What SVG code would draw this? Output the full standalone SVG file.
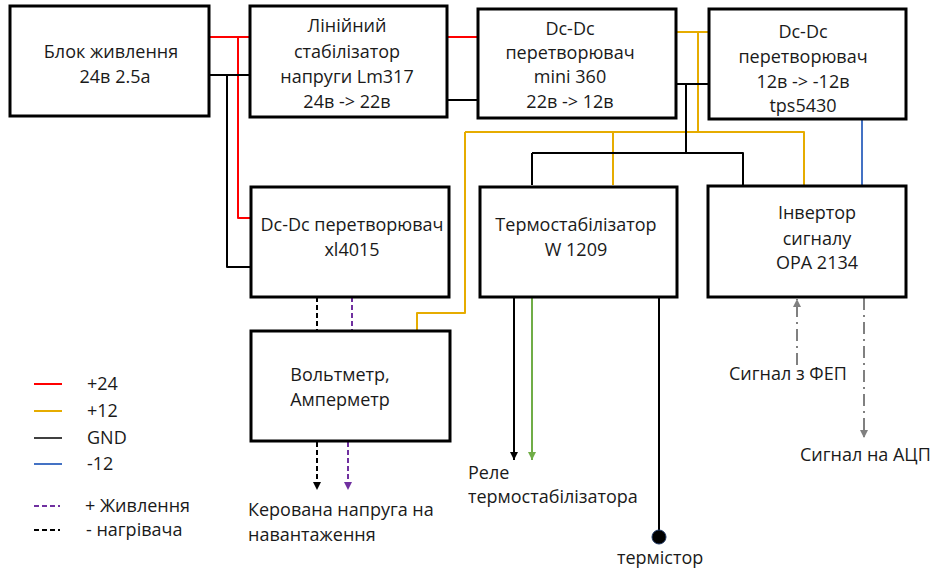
<svg xmlns="http://www.w3.org/2000/svg" width="933" height="574" viewBox="0 0 933 574">
<style>
.box{fill:#fff;stroke:#000;stroke-width:3}
.t{font-family:"Open Sans","Liberation Sans",sans-serif;font-size:18px;fill:#1a1a1a;text-anchor:middle}
.tl{font-family:"Open Sans","Liberation Sans",sans-serif;font-size:18px;fill:#1a1a1a}
.w{fill:none;stroke-width:2;stroke-linejoin:round}
.r{stroke:#ff0000}.y{stroke:#e6ac00}.k{stroke:#000}.b{stroke:#4472c4}.g{stroke:#70ad47}.p{stroke:#7030a0}.gr{stroke:#808080}
.d{stroke-dasharray:5 3}
.dd{stroke-dasharray:12 5 2 5}
</style>
<defs>
<marker id="ak" viewBox="0 0 10 10" refX="10" refY="5" markerWidth="4" markerHeight="4" orient="auto"><path d="M0,0L10,5L0,10z" fill="#000"/></marker>
<marker id="ap" viewBox="0 0 10 10" refX="10" refY="5" markerWidth="4" markerHeight="4" orient="auto"><path d="M0,0L10,5L0,10z" fill="#7030a0"/></marker>
<marker id="ag" viewBox="0 0 10 10" refX="10" refY="5" markerWidth="4" markerHeight="4" orient="auto"><path d="M0,0L10,5L0,10z" fill="#70ad47"/></marker>
<marker id="agr" viewBox="0 0 10 10" refX="10" refY="5" markerWidth="4" markerHeight="4" orient="auto"><path d="M0,0L10,5L0,10z" fill="#808080"/></marker>
</defs>
<g id="connectors">
<path class="w r" d="M209,37H250M238,37V218H251M447,37H478"/>
<path class="w k" d="M209,75H250M227,75V267H251M447,100H478"/>
<path class="w y" d="M676,32H709M698,32V132M465,132H804V185M613,132V185M465,132V313H417V330"/>
<path class="w k" d="M676,84H709M686,84V153M532,153H743V185M532,153V185"/>
<path class="w b" d="M862,119V185"/>
<path class="w k d" d="M317,297V330"/>
<path class="w p d" d="M352,297V330"/>
<path class="w k d" d="M317,442V490" marker-end="url(#ak)"/>
<path class="w p d" d="M348,442V490" marker-end="url(#ap)"/>
<path class="w k" d="M514,297V460" marker-end="url(#ak)"/>
<path class="w g" d="M532,297V460" marker-end="url(#ag)"/>
<path class="w k" d="M659,297V537"/>
<circle cx="659" cy="537" r="7" fill="#000" stroke="#1f3864" stroke-width="1"/>
<path class="w gr dd" d="M797,365V299" marker-end="url(#agr)"/>
<path class="w gr dd" d="M864,298V438" marker-end="url(#agr)"/>
</g>
<g id="n1"><rect class="box" x="10" y="6" width="199" height="110"/>
<text class="t" x="111" y="58">Блок живлення</text><text class="t" x="115" y="83">24в 2.5а</text></g>
<g id="n2"><rect class="box" x="250" y="6" width="197" height="111"/>
<text class="t" x="347" y="32">Лінійний</text><text class="t" x="347" y="58">стабілізатор</text><text class="t" x="347" y="83">напруги Lm317</text><text class="t" x="347" y="108">24в -&gt; 22в</text></g>
<g id="n3"><rect class="box" x="478" y="9" width="198" height="109"/>
<text class="t" x="570" y="35">Dc-Dc</text><text class="t" x="570" y="59">перетворювач</text><text class="t" x="570" y="83">mini 360</text><text class="t" x="570" y="108">22в -&gt; 12в</text></g>
<g id="n4"><rect class="box" x="709" y="9" width="197" height="110"/>
<text class="t" x="803" y="38">Dc-Dc</text><text class="t" x="803" y="63">перетворювач</text><text class="t" x="803" y="88">12в -&gt; -12в</text><text class="t" x="803" y="112">tps5430</text></g>
<g id="n5"><rect class="box" x="251" y="187" width="198" height="110"/>
<text class="t" x="352" y="231">Dc-Dc перетворювач</text><text class="t" x="352" y="256">xl4015</text></g>
<g id="n6"><rect class="box" x="480" y="187" width="197" height="110"/>
<text class="t" x="576" y="231">Термостабілізатор</text><text class="t" x="576" y="256">W 1209</text></g>
<g id="n7"><rect class="box" x="708" y="186" width="198" height="111"/>
<text class="t" x="817" y="219">Інвертор</text><text class="t" x="817" y="245">сигналу</text><text class="t" x="817" y="269">OPA 2134</text></g>
<g id="n8"><rect class="box" x="251" y="331" width="199" height="110"/>
<text class="t" x="340" y="381">Вольтметр,</text><text class="t" x="340" y="406">Амперметр</text></g>
<g id="labels">
<text class="tl" x="248" y="516">Керована напруга на</text>
<text class="tl" x="248" y="541">навантаження</text>
<text class="tl" x="468" y="479">Реле</text>
<text class="tl" x="468" y="503">термостабілізатора</text>
<text class="tl" x="617" y="564">термістор</text>
<text class="tl" x="729" y="380">Сигнал з ФЕП</text>
<text class="tl" x="800" y="461">Сигнал на АЦП</text>
</g>
<g id="legend">
<path class="w r" d="M34,384H62"/>
<path class="w y" d="M34,411H62"/>
<path class="w" stroke="#404040" d="M34,438H62"/>
<path class="w b" d="M34,464H62"/>
<path class="w p d" d="M34,506H60"/>
<path class="w k d" d="M34,530H60"/>
<text class="tl" x="87" y="390">+24</text>
<text class="tl" x="87" y="417">+12</text>
<text class="tl" x="87" y="444">GND</text>
<text class="tl" x="87" y="470">-12</text>
<text class="tl" x="85" y="512">+ Живлення</text>
<text class="tl" x="86" y="536">- нагрівача</text>
</g>
</svg>
